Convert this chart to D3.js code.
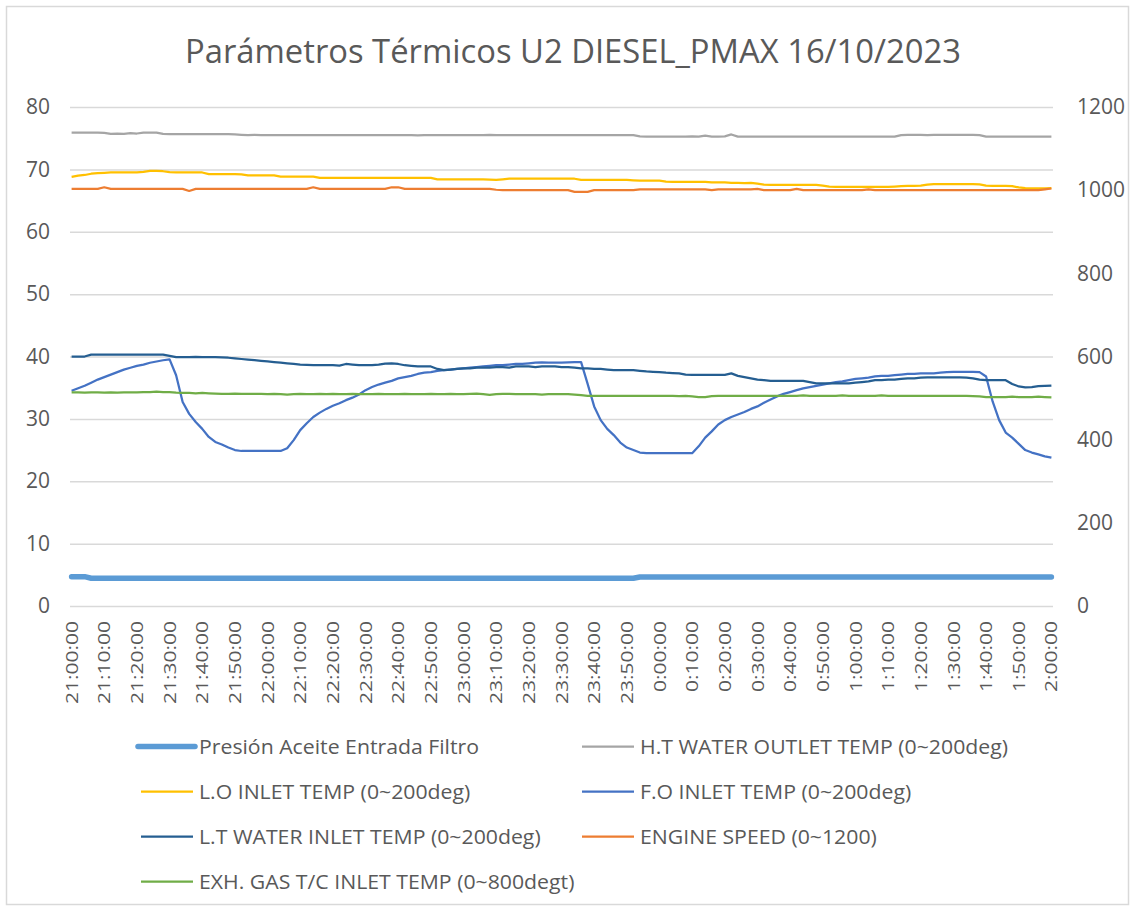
<!DOCTYPE html>
<html><head><meta charset="utf-8">
<script src="https://cdn.jsdelivr.net/npm/d3@7"></script>
<style>
body{margin:0;background:#fff}
svg{display:block}
text{font-family:"Open Sans","Noto Sans",sans-serif;fill:#595959}
</style>
</head><body>
<svg id="c" width="1135" height="911"></svg>
<script>
// ---------------- DATA ----------------
const title = "Parámetros Térmicos U2 DIESEL_PMAX 16/10/2023";
const tickLabels = ["21:00:00","21:10:00","21:20:00","21:30:00","21:40:00","21:50:00","22:00:00","22:10:00","22:20:00","22:30:00","22:40:00","22:50:00","23:00:00","23:10:00","23:20:00","23:30:00","23:40:00","23:50:00","0:00:00","0:10:00","0:20:00","0:30:00","0:40:00","0:50:00","1:00:00","1:10:00","1:20:00","1:30:00","1:40:00","1:50:00","2:00:00"];
const leftTicks = [0,10,20,30,40,50,60,70,80];
const rightTicks = [0,200,400,600,800,1000,1200];
// samples every 2 minutes from 21:00 (minute 0) to 2:00 (minute 300)
const minutes = d3.range(0, 301, 2);

const presion = [
4.7,4.7,4.7,4.45,4.45,4.45,4.45,4.45,4.45,4.45,
4.45,4.45,4.45,4.45,4.45,4.45,4.45,4.45,4.45,4.45,
4.45,4.45,4.45,4.45,4.45,4.45,4.45,4.45,4.45,4.45,
4.45,4.45,4.45,4.45,4.45,4.45,4.45,4.45,4.45,4.45,
4.45,4.45,4.45,4.45,4.45,4.45,4.45,4.45,4.45,4.45,
4.45,4.45,4.45,4.45,4.45,4.45,4.45,4.45,4.45,4.45,
4.45,4.45,4.45,4.45,4.45,4.45,4.45,4.45,4.45,4.45,
4.45,4.45,4.45,4.45,4.45,4.45,4.45,4.45,4.45,4.45,
4.45,4.45,4.45,4.45,4.45,4.45,4.45,4.65,4.65,4.65,
4.65,4.65,4.65,4.65,4.65,4.65,4.65,4.65,4.65,4.65,
4.65,4.65,4.65,4.65,4.65,4.65,4.65,4.65,4.65,4.65,
4.65,4.65,4.65,4.65,4.65,4.65,4.65,4.65,4.65,4.65,
4.65,4.65,4.65,4.65,4.65,4.65,4.65,4.65,4.65,4.65,
4.65,4.65,4.65,4.65,4.65,4.65,4.65,4.65,4.65,4.65,
4.65,4.65,4.65,4.65,4.65,4.65,4.65,4.65,4.65,4.65,
4.65];

const htWater = [
75.9,75.9,75.9,75.9,75.9,75.85,75.7,75.75,75.7,75.8,
75.75,75.9,75.9,75.9,75.7,75.65,75.65,75.65,75.65,75.65,
75.65,75.65,75.65,75.65,75.65,75.6,75.55,75.5,75.55,75.5,
75.5,75.5,75.5,75.5,75.5,75.5,75.5,75.5,75.5,75.5,
75.5,75.5,75.5,75.5,75.5,75.5,75.5,75.5,75.5,75.5,
75.5,75.5,75.5,75.45,75.5,75.5,75.5,75.5,75.5,75.5,
75.5,75.5,75.5,75.5,75.55,75.5,75.5,75.5,75.5,75.5,
75.5,75.5,75.5,75.5,75.5,75.5,75.5,75.5,75.5,75.5,
75.5,75.5,75.5,75.5,75.5,75.5,75.5,75.3,75.25,75.25,
75.25,75.25,75.25,75.25,75.25,75.3,75.25,75.4,75.25,75.25,
75.3,75.6,75.25,75.25,75.25,75.25,75.25,75.25,75.25,75.25,
75.25,75.25,75.25,75.25,75.25,75.25,75.25,75.25,75.25,75.25,
75.25,75.25,75.25,75.25,75.25,75.25,75.25,75.5,75.55,75.55,
75.55,75.5,75.55,75.55,75.55,75.55,75.55,75.55,75.55,75.5,
75.25,75.25,75.25,75.25,75.25,75.25,75.25,75.25,75.25,75.25,
75.25];

const loInlet = [
68.8,69.0,69.1,69.3,69.4,69.45,69.5,69.5,69.5,69.5,
69.5,69.6,69.75,69.75,69.7,69.55,69.5,69.5,69.5,69.5,
69.5,69.25,69.25,69.25,69.25,69.25,69.2,69.05,69.05,69.05,
69.05,69.05,68.85,68.85,68.85,68.85,68.85,68.85,68.65,68.65,
68.65,68.65,68.65,68.65,68.65,68.65,68.65,68.65,68.65,68.65,
68.65,68.65,68.65,68.65,68.65,68.65,68.4,68.4,68.4,68.4,
68.4,68.4,68.4,68.4,68.35,68.3,68.4,68.5,68.5,68.5,
68.5,68.5,68.5,68.5,68.5,68.5,68.5,68.5,68.3,68.3,
68.3,68.3,68.3,68.3,68.3,68.3,68.25,68.2,68.2,68.2,
68.2,68.05,68.0,68.0,68.0,68.0,68.0,68.0,67.9,67.9,
67.9,67.85,67.85,67.8,67.85,67.7,67.55,67.5,67.5,67.5,
67.5,67.5,67.5,67.5,67.5,67.4,67.25,67.2,67.2,67.2,
67.2,67.2,67.2,67.2,67.2,67.2,67.25,67.3,67.35,67.35,
67.4,67.55,67.65,67.65,67.65,67.65,67.65,67.65,67.65,67.6,
67.4,67.35,67.35,67.35,67.3,67.1,67.0,66.95,66.95,66.95,
67.0];

const foInlet = [
34.5,34.9,35.3,35.8,36.3,36.7,37.1,37.5,37.9,38.2,
38.5,38.7,39.0,39.2,39.4,39.55,37.0,32.7,30.8,29.5,
28.4,27.1,26.3,25.9,25.4,25.0,24.85,24.85,24.85,24.85,
24.85,24.85,24.85,25.3,26.6,28.2,29.3,30.3,31.0,31.6,
32.1,32.5,33.0,33.4,33.9,34.6,35.1,35.5,35.8,36.1,
36.5,36.7,36.9,37.2,37.4,37.5,37.7,37.8,37.9,38.0,
38.1,38.2,38.3,38.4,38.5,38.6,38.6,38.7,38.8,38.8,
38.9,39.0,39.05,39.0,39.0,39.0,39.05,39.1,39.1,35.6,
32.0,29.8,28.4,27.4,26.2,25.4,25.0,24.6,24.5,24.5,
24.5,24.5,24.5,24.5,24.5,24.5,25.6,27.0,28.0,29.1,
29.8,30.3,30.7,31.1,31.6,32.0,32.6,33.1,33.6,34.0,
34.3,34.6,34.9,35.1,35.3,35.5,35.7,35.9,36.0,36.2,
36.4,36.5,36.6,36.8,36.9,36.9,37.0,37.1,37.2,37.2,
37.3,37.3,37.3,37.4,37.5,37.55,37.55,37.55,37.55,37.5,
36.8,32.8,29.8,27.8,27.0,26.0,25.0,24.6,24.3,24.0,
23.8];

const ltWater = [
40.0,40.0,40.0,40.3,40.3,40.3,40.3,40.3,40.3,40.3,
40.3,40.3,40.3,40.3,40.3,40.1,39.9,39.9,39.9,39.95,
39.9,39.9,39.9,39.85,39.8,39.7,39.6,39.5,39.4,39.3,
39.2,39.1,39.0,38.9,38.8,38.7,38.65,38.6,38.6,38.6,
38.6,38.55,38.8,38.7,38.6,38.6,38.6,38.7,38.85,38.9,
38.8,38.6,38.5,38.4,38.4,38.4,38.0,37.8,37.9,38.0,
38.1,38.1,38.2,38.2,38.2,38.3,38.3,38.2,38.4,38.4,
38.4,38.3,38.4,38.4,38.4,38.3,38.3,38.2,38.1,38.1,
38.0,38.0,37.9,37.8,37.8,37.8,37.8,37.7,37.6,37.55,
37.5,37.4,37.35,37.3,37.1,37.05,37.05,37.05,37.05,37.05,
37.05,37.3,36.9,36.7,36.5,36.3,36.2,36.1,36.1,36.1,
36.1,36.1,36.1,35.9,35.7,35.7,35.7,35.7,35.7,35.7,
35.8,35.9,36.0,36.2,36.2,36.3,36.3,36.4,36.5,36.5,
36.6,36.65,36.65,36.65,36.65,36.65,36.65,36.6,36.5,36.3,
36.2,36.2,36.2,36.2,35.6,35.2,35.05,35.1,35.25,35.3,
35.35];

const engineSpeed = [
1003,1003,1003,1003,1003,1007,1003,1003,1003,1003,
1003,1003,1003,1003,1003,1003,1003,1003,998,1003,
1003,1003,1003,1003,1003,1003,1003,1003,1003,1003,
1003,1003,1003,1003,1003,1003,1003,1007,1003,1003,
1003,1003,1003,1003,1003,1003,1003,1003,1003,1007,
1007,1003,1003,1003,1003,1003,1003,1003,1003,1003,
1003,1003,1003,1003,1003,1001,1000,1000,1000,1000,
1000,1000,1000,1000,1000,1000,1000,996,996,996,
1000,1000,1000,1000,1000,1000,1000,1002,1002,1002,
1002,1002,1002,1002,1002,1002,1002,1002,1000,1002,
1002,1002,1002,1002,1002,1003,1000,1000,1000,1000,
1000,1003,1000,1000,1000,1000,1000,1000,1000,1000,
1000,1000,1002,1000,1000,1000,1000,1000,1000,1000,
1000,1000,1000,1000,1000,1000,1000,1000,1000,1000,
1000,1000,1000,1000,1000,1000,1000,1000,1000,1002,
1004];

const exhGas = [
34.25,34.25,34.2,34.25,34.25,34.2,34.25,34.2,34.25,34.25,
34.25,34.3,34.3,34.35,34.3,34.3,34.2,34.15,34.15,34.1,
34.15,34.1,34.05,34.0,34.0,34.05,34.0,34.0,34.0,34.0,
33.95,34.0,33.95,33.9,33.95,34.0,33.95,33.95,34.0,33.95,
34.0,33.95,33.95,34.0,33.95,33.95,33.95,34.0,33.95,33.95,
33.95,34.0,33.95,33.95,33.95,34.0,33.95,33.95,34.0,33.95,
33.95,34.0,34.05,33.95,33.85,33.95,34.0,34.0,33.95,33.95,
33.95,33.95,33.9,33.95,33.95,33.95,33.95,33.9,33.8,33.7,
33.7,33.7,33.7,33.7,33.7,33.7,33.7,33.7,33.7,33.7,
33.7,33.7,33.7,33.65,33.7,33.6,33.5,33.5,33.65,33.7,
33.7,33.7,33.7,33.7,33.7,33.7,33.7,33.7,33.7,33.7,
33.7,33.7,33.75,33.7,33.7,33.7,33.7,33.7,33.75,33.7,
33.7,33.7,33.7,33.7,33.75,33.7,33.7,33.7,33.7,33.7,
33.7,33.7,33.7,33.7,33.7,33.7,33.7,33.7,33.65,33.6,
33.5,33.5,33.5,33.5,33.55,33.5,33.5,33.5,33.55,33.5,
33.45];

const seriesNames = [
"Presión Aceite Entrada Filtro",
"H.T WATER OUTLET TEMP (0~200deg)",
"L.O INLET TEMP (0~200deg)",
"F.O INLET TEMP (0~200deg)",
"L.T WATER INLET TEMP (0~200deg)",
"ENGINE SPEED (0~1200)",
"EXH. GAS T/C INLET TEMP (0~800degt)"];

// ---------------- CHART ----------------
const series = [
 {name:seriesNames[0], values:presion,     axis:"L", color:"#5B9BD5", w:5.5},
 {name:seriesNames[1], values:htWater,     axis:"L", color:"#A5A5A5", w:2.25},
 {name:seriesNames[2], values:loInlet,     axis:"L", color:"#FFC000", w:2.25},
 {name:seriesNames[3], values:foInlet,     axis:"L", color:"#4472C4", w:2.25},
 {name:seriesNames[4], values:ltWater,     axis:"L", color:"#255E91", w:2.25},
 {name:seriesNames[5], values:engineSpeed, axis:"R", color:"#ED7D31", w:2.25},
 {name:seriesNames[6], values:exhGas,      axis:"L", color:"#70AD47", w:2.25}
];

const svg = d3.select("#c");
const plotL = 70, plotR = 1053, plotT = 107, plotB = 606;

svg.append("rect").attr("x",6.5).attr("y",6.5).attr("width",1122).attr("height",898)
  .attr("fill","#fff").attr("stroke","#D9D9D9").attr("stroke-width",1.5);

const x = d3.scaleLinear().domain([0,300]).range([plotL+1.6, plotR-1.6]);
const yL = d3.scaleLinear().domain([0,80]).range([plotB, plotT]);
const yR = d3.scaleLinear().domain([0,1200]).range([plotB, plotT]);

// title
const t = svg.append("text").attr("x",(185+961)/2).attr("y",63)
  .attr("text-anchor","middle").style("font-size","32px").text(title);
t.attr("textLength",776).attr("lengthAdjust","spacingAndGlyphs");

// gridlines
const grid = svg.append("g").attr("transform",`translate(${plotL},0)`)
  .call(d3.axisLeft(yL).tickValues(leftTicks).tickSize(-(plotR-plotL)).tickFormat(""));
grid.select(".domain").remove();
grid.selectAll("line").attr("stroke","#D9D9D9").attr("stroke-width",1.5);

// left axis labels
const ax = svg.append("g").attr("transform",`translate(${plotL},0)`)
  .call(d3.axisLeft(yL).tickValues(leftTicks).tickSize(0).tickPadding(20).tickFormat(d3.format("d")));
ax.select(".domain").remove();
ax.selectAll("text").style("font-size","21px").style("font-family",'"Open Sans",sans-serif').attr("fill","#595959");

// right axis labels
const axR = svg.append("g").attr("transform",`translate(${plotR},0)`)
  .call(d3.axisRight(yR).tickValues(rightTicks).tickSize(0).tickPadding(24).tickFormat(d3.format("d")));
axR.select(".domain").remove();
axR.selectAll("text").style("font-size","21px").style("font-family",'"Open Sans",sans-serif').attr("fill","#595959");

// x axis labels
const tickMinutes = d3.range(0, 301, 10);
const axX = svg.append("g").attr("transform",`translate(0,${plotB})`)
  .call(d3.axisBottom(x).tickValues(tickMinutes).tickSize(0).tickFormat((d,i)=>tickLabels[i]));
axX.select(".domain").remove();
const xt = axX.selectAll("text")
  .style("font-size","15.5px").style("font-family",'"Open Sans",sans-serif').attr("fill","#595959")
  .attr("transform","rotate(-90)").attr("text-anchor","end")
  .attr("x",-15).attr("y",0).attr("dy","0.36em");
const refLen = xt.nodes()[0].getComputedTextLength();
const kx = 83 / refLen;
xt.each(function(){ const L=this.getComputedTextLength(); d3.select(this).attr("textLength",L*kx).attr("lengthAdjust","spacingAndGlyphs"); });

// lines
const gLines = svg.append("g");
series.forEach(s => {
  const ys = s.axis === "L" ? yL : yR;
  const line = d3.line().x((d,i)=>x(minutes[i])).y(d=>ys(d));
  gLines.append("path").datum(s.values).attr("d",line)
    .attr("fill","none").attr("stroke",s.color).attr("stroke-width",s.w)
    .attr("stroke-linejoin","round").attr("stroke-linecap", s.w>3 ? "round" : "butt");
});

// legend
const legendRows = [746.5, 791.5, 836.5, 881.5];
const legCols = [{lx1:141, lx2:193, tx:199},{lx1:582, lx2:634, tx:640}];
const lg = svg.append("g");
const legTexts = [];
series.forEach((s,i) => {
  const c = legCols[i%2], yy = legendRows[Math.floor(i/2)];
  lg.append("line").attr("x1",c.lx1 - (s.w>3?3:0)).attr("x2",c.lx2 + (s.w>3?2:0)).attr("y1",yy).attr("y2",yy)
    .attr("stroke",s.color).attr("stroke-width",s.w).attr("stroke-linecap", s.w>3?"round":"butt");
  const tx = lg.append("text").attr("x",c.tx).attr("y",yy).attr("dy","0.36em")
    .style("font-size","20px").text(s.name);
  legTexts.push(tx);
});
const refW = legTexts[1].node().getComputedTextLength();
const kl = 368 / refW;
legTexts.forEach(tx => { const L = tx.node().getComputedTextLength(); tx.attr("textLength", L*kl).attr("lengthAdjust","spacingAndGlyphs"); });
</script>
</body></html>
